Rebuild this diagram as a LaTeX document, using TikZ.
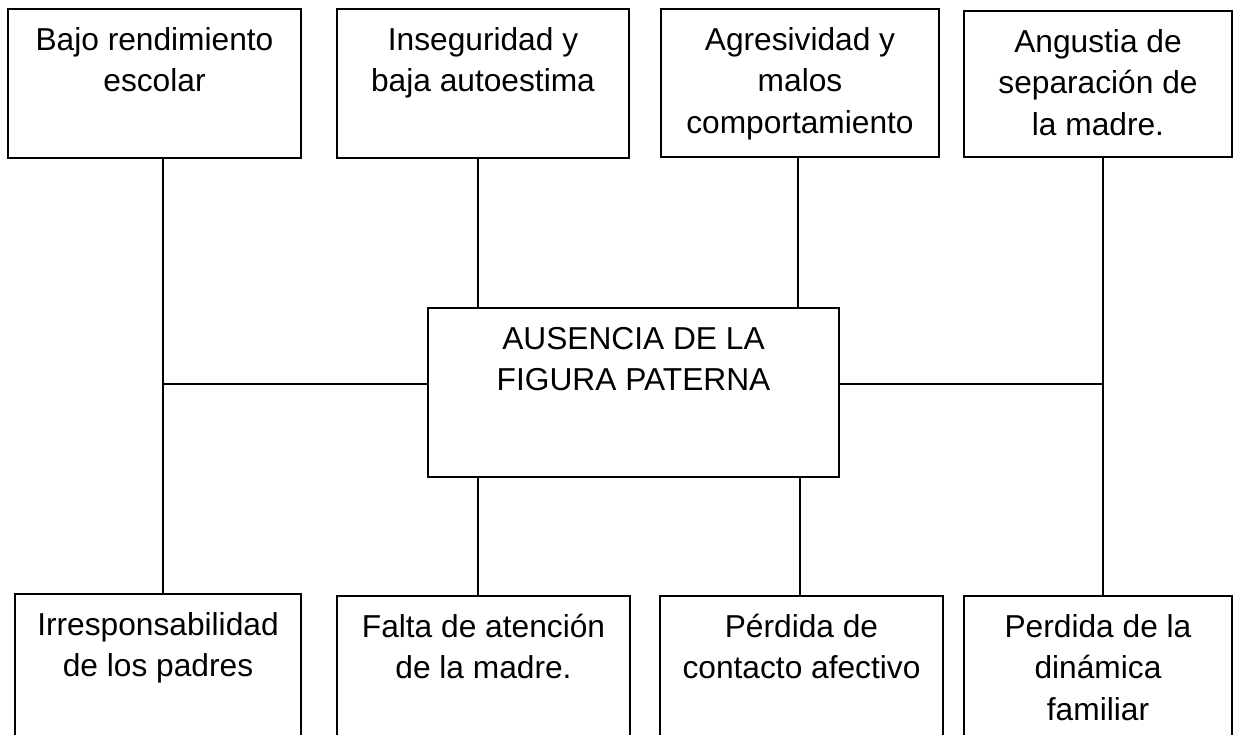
\documentclass[tikz,border=0pt]{standalone}
\usepackage{fontspec}
\setmainfont{Liberation Sans}
\usepackage{tikz}
\newcommand{\cajatxt}[3]{\parbox[c][#1][t]{#2}{\centering\rule{0pt}{41pt}#3}}

\begin{document}
\begin{tikzpicture}[x=1pt,y=-1pt,
    caja/.style={draw, line width=1.3pt, inner sep=0pt, outer sep=0pt, anchor=north west,
                 font=\fontsize{31.7}{41.8}\selectfont},
    linea/.style={line width=1.3pt}]
            \useasboundingbox (0,0) rectangle (1237,734);
            \clip (0,0) rectangle (1237,734);

            \node[caja] (top1) at (8,9) {\cajatxt{149pt}{293pt}{Bajo rendimiento\\escolar}};
            \node[caja] (top2) at (337,9) {\cajatxt{149pt}{292pt}{Inseguridad y\\baja autoestima}};
            \node[caja] (top3) at (661,9) {\cajatxt{148pt}{278pt}{Agresividad y\\malos\\comportamiento}};
            \node[caja] (top4) at (964,11) {\cajatxt{146pt}{268pt}{Angustia de\\separación de\\la madre.}};

            \node[caja] (centro) at (428,308) {\cajatxt{169pt}{411pt}{AUSENCIA DE LA\\FIGURA PATERNA}};

            \node[caja] (bot1) at (15,594) {\cajatxt{170pt}{286pt}{Irresponsabilidad\\de los padres}};
            \node[caja] (bot2) at (337,596) {\cajatxt{170pt}{293pt}{Falta de atención\\de la madre.}};
            \node[caja] (bot3) at (660,596) {\cajatxt{170pt}{283pt}{Pérdida de\\contacto afectivo}};
            \node[caja] (bot4) at (964,596) {\cajatxt{170pt}{268pt}{Perdida de la\\dinámica\\familiar}};

            \coordinate (izq) at (163,384);
            \coordinate (der) at (1103,384);
            \coordinate (m1) at (478,0);
            \coordinate (m2) at (798,0);
            \coordinate (m3) at (800,0);

            \draw[linea] (top1.south -| izq) -- (bot1.north -| izq);
            \draw[linea] (izq) -- (centro.west |- izq);
            \draw[linea] (top4.south -| der) -- (bot4.north -| der);
            \draw[linea] (centro.east |- der) -- (der);
            \draw[linea] (top2.south -| m1) -- (centro.north -| m1);
            \draw[linea] (top3.south -| m2) -- (centro.north -| m2);
            \draw[linea] (centro.south -| m1) -- (bot2.north -| m1);
            \draw[linea] (centro.south -| m3) -- (bot3.north -| m3);

        \end{tikzpicture}
\end{document}
